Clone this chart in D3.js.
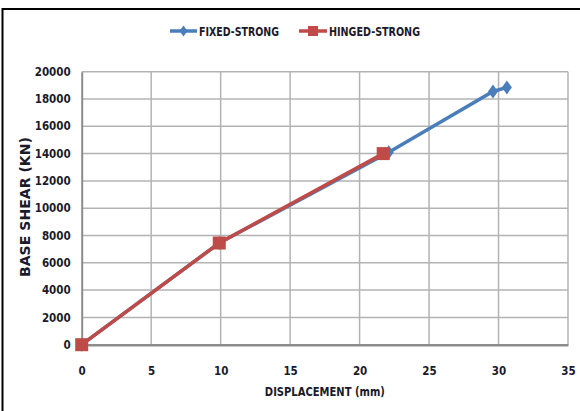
<!DOCTYPE html>
<html><head><meta charset="utf-8">
<script src="https://cdn.jsdelivr.net/npm/d3@7"></script>
<style>body{margin:0;background:#fff}svg{display:block}</style>
</head><body><svg id="c" width="580" height="411"></svg>
<script>
const seriesNames = ["FIXED-STRONG", "HINGED-STRONG"];
const fixedDisp = [0, 9.9, 22.1, 29.6, 30.6];
const fixedShear = [0, 7450, 14100, 18550, 18850];
const hingedDisp = [0, 9.9, 21.7];
const hingedShear = [0, 7450, 14000];
const xTicks = [0, 5, 10, 15, 20, 25, 30, 35];
const yTicks = [0, 2000, 4000, 6000, 8000, 10000, 12000, 14000, 16000, 18000, 20000];
const colors = ["#4a7ebb", "#be4b48"];

const svg = d3.select("#c");
const font = "'Liberation Sans Narrow','DejaVu Sans Condensed','Roboto Condensed',sans-serif";
const x = d3.scaleLinear().domain([0, 35]).range([81.7, 568]);
const y = d3.scaleLinear().domain([0, 20000]).range([344.7, 71.7]);

// outer border
svg.append("rect").attr("x", 2.5).attr("y", 9).attr("width", 590).attr("height", 420)
  .attr("fill", "none").attr("stroke", "#000").attr("stroke-width", 2);

// gridlines
svg.append("g").selectAll("line").data(yTicks.filter(d => d > 0)).join("line")
  .attr("x1", x(0)).attr("x2", x(35)).attr("y1", d => y(d)).attr("y2", d => y(d))
  .attr("stroke", "#b3b3b3").attr("stroke-width", 1.5);
svg.append("g").selectAll("line").data(xTicks.filter(d => d > 0)).join("line")
  .attr("y1", y(0)).attr("y2", y(20000)).attr("x1", d => x(d)).attr("x2", d => x(d))
  .attr("stroke", "#b3b3b3").attr("stroke-width", 1.5);

// axes
const xAxis = svg.append("g").attr("transform", `translate(0,${y(0)})`)
  .call(d3.axisBottom(x).tickValues(xTicks).tickSize(0).tickPadding(22).tickFormat(d3.format("d")));
xAxis.select(".domain").attr("stroke", "#8c8c8c").attr("stroke-width", 2.5);
const yAxis = svg.append("g").attr("transform", `translate(${x(0)},0)`)
  .call(d3.axisLeft(y).tickValues(yTicks).tickSize(0).tickPadding(11).tickFormat(d3.format("d")));
yAxis.select(".domain").attr("stroke", "#8c8c8c").attr("stroke-width", 2);
svg.selectAll(".tick text").attr("font-family", font).attr("font-size", 11.5)
  .attr("font-weight", "bold").attr("fill", "#1a1a2a");

// axis titles
svg.append("text").attr("x", (x(0) + x(35)) / 2).attr("y", 396)
  .attr("text-anchor", "middle").attr("font-family", font).attr("font-size", 12)
  .attr("font-weight", "bold").attr("fill", "#1a1a2a")
  .attr("textLength", 120).attr("lengthAdjust", "spacingAndGlyphs").text("DISPLACEMENT (mm)");
svg.append("text").attr("transform", `translate(30,207) rotate(-90)`)
  .attr("text-anchor", "middle").attr("font-family", font).attr("font-size", 14.5)
  .attr("font-weight", "bold").attr("fill", "#1a1a2a")
  .attr("textLength", 140).attr("lengthAdjust", "spacingAndGlyphs").text("BASE SHEAR (KN)");

const line = d3.line().x(d => x(d[0])).y(d => y(d[1]));
const fixed = d3.zip(fixedDisp, fixedShear);
const hinged = d3.zip(hingedDisp, hingedShear);

svg.append("path").datum(fixed).attr("d", line).attr("fill", "none")
  .attr("stroke", colors[0]).attr("stroke-width", 3.5);
svg.append("g").selectAll("path").data(fixed).join("path")
  .attr("d", "M0,-7L5,0L0,7L-5,0Z").attr("fill", colors[0])
  .attr("transform", d => `translate(${x(d[0])},${y(d[1])})`);

svg.append("path").datum(hinged).attr("d", line).attr("fill", "none")
  .attr("stroke", colors[1]).attr("stroke-width", 3.5);
svg.append("g").selectAll("rect").data(hinged).join("rect")
  .attr("x", d => x(d[0]) - 6.5).attr("y", d => y(d[1]) - 6.5)
  .attr("width", 13).attr("height", 13).attr("fill", colors[1]);

// legend
const leg = [{x1: 170, x2: 197, tx: 199, tl: 80, shape: "diamond"},
             {x1: 299, x2: 327, tx: 329, tl: 91, shape: "square"}];
leg.forEach((l, i) => {
  const g = svg.append("g");
  g.append("line").attr("x1", l.x1).attr("x2", l.x2).attr("y1", 31).attr("y2", 31)
    .attr("stroke", colors[i]).attr("stroke-width", 3.5);
  const cx = (l.x1 + l.x2) / 2;
  if (l.shape === "diamond") {
    g.append("path").attr("d", "M0,-5.5L4,0L0,5.5L-4,0Z").attr("fill", colors[i])
      .attr("transform", `translate(${cx},31)`);
  } else {
    g.append("rect").attr("x", cx - 5).attr("y", 26).attr("width", 10).attr("height", 10).attr("fill", colors[i]);
  }
  g.append("text").attr("x", l.tx).attr("y", 35.5).attr("font-family", font).attr("font-size", 12)
    .attr("font-weight", "bold").attr("fill", "#1a1a2a")
    .attr("textLength", l.tl).attr("lengthAdjust", "spacingAndGlyphs").text(seriesNames[i]);
});
</script></body></html>
